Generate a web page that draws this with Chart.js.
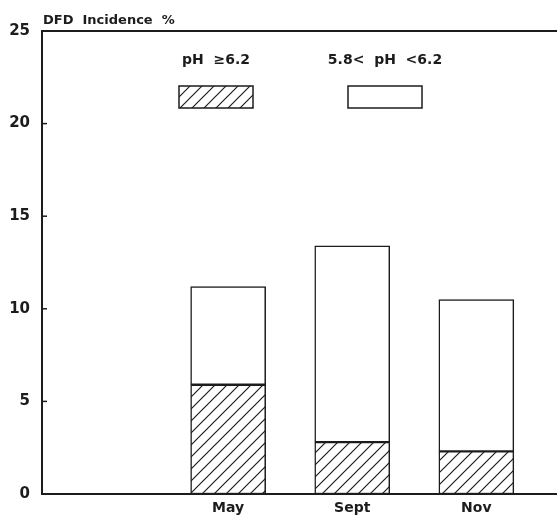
<!DOCTYPE html>
<html>
<head>
<meta charset="utf-8">
<script src="https://cdn.jsdelivr.net/npm/chart.js@4.4.1/dist/chart.umd.min.js"></script>
<style>
    html, body { margin: 0; padding: 0; background: #fff; }
</style>
</head>
<body>
<canvas id="chartDFD" width="557" height="519"></canvas>
<script>
// ---------- DATA ----------
var months = ['May', 'Sept', 'Nov'];
var highPH = [5.9, 2.8, 2.3];      // pH >= 6.2 (hatched)
var midPH = [5.3, 10.6, 8.2];      // 5.8 < pH < 6.2 (white, stacked on top)
var yTicks = [0, 5, 10, 15, 20, 25];
var seriesNames = ['pH  \u22656.2', '5.8<  pH  <6.2'];
var yTitle = 'DFD  Incidence  %';

var ink = '#1c1c1c';
var font = 'DejaVu Sans, Liberation Sans, sans-serif';

// hatch pattern for the high pH series
function makeHatch() {
    var s = 12;
    var c = document.createElement('canvas');
    c.width = s; c.height = s;
    var g = c.getContext('2d');
    g.fillStyle = '#fff';
    g.fillRect(0, 0, s, s);
    g.strokeStyle = ink;
    g.lineWidth = 1.2;
    g.beginPath();
    g.moveTo(0, s); g.lineTo(s, 0);
    g.moveTo(-2, 2); g.lineTo(2, -2);
    g.moveTo(s - 2, s + 2); g.lineTo(s + 2, s - 2);
    g.stroke();
    return g.createPattern(c, 'repeat');
}
var hatch = makeHatch();

function toPoints(arr) {
    return arr.map(function (v, i) { return { x: i + 1, y: v }; });
}

// ---------- PLUGINS ----------
var frameExtras = {
    id: 'frameExtras',
    afterDraw: function (chart) {
        var ctx = chart.ctx;
        var a = chart.chartArea;
        var y = chart.scales.y;
        ctx.save();
        ctx.strokeStyle = ink;
        // top border
        ctx.lineWidth = 2;
        ctx.beginPath();
        ctx.moveTo(a.left, a.top);
        ctx.lineTo(a.right, a.top);
        ctx.stroke();
        // inward tick marks
        ctx.lineWidth = 1.5;
        yTicks.forEach(function (t) {
            var py = y.getPixelForValue(t);
            ctx.beginPath();
            ctx.moveTo(a.left, py);
            ctx.lineTo(a.left + 5, py);
            ctx.stroke();
        });
        // axis title
        ctx.fillStyle = ink;
        ctx.font = 'bold 13px ' + font;
        ctx.textAlign = 'left';
        ctx.textBaseline = 'alphabetic';
        ctx.fillText(yTitle, a.left + 1, 24);
        // legend
        var items = [
            { label: seriesNames[0], fill: hatch, cx: 216 },
            { label: seriesNames[1], fill: '#fff', cx: 385 }
        ];
        ctx.font = 'bold 14px ' + font;
        ctx.textAlign = 'center';
        ctx.textBaseline = 'middle';
        items.forEach(function (it) {
            ctx.fillStyle = ink;
            ctx.fillText(it.label, it.cx, 60);
            ctx.fillStyle = it.fill;
            ctx.fillRect(it.cx - 37, 86, 74, 22);
            ctx.lineWidth = 1.5;
            ctx.strokeRect(it.cx - 37, 86, 74, 22);
        });
        ctx.restore();
    }
};

// ---------- CHART ----------
new Chart(document.getElementById('chartDFD'), {
    type: 'bar',
    data: {
        datasets: [{
            label: seriesNames[0],
            data: toPoints(highPH),
            backgroundColor: hatch,
            borderColor: ink,
            borderWidth: 1.5,
            borderSkipped: false,
            barThickness: 75
        }, {
            label: seriesNames[1],
            data: toPoints(midPH),
            backgroundColor: '#fff',
            borderColor: ink,
            borderWidth: 1.5,
            borderSkipped: false,
            barThickness: 75
        }]
    },
    options: {
        responsive: false,
        animation: false,
        layout: { padding: { top: 31, right: 0, left: 0, bottom: 0 } },
        plugins: {
            legend: { display: false },
            tooltip: { enabled: false }
        },
        scales: {
            x: {
                type: 'linear',
                stacked: true,
                offset: false,
                min: -0.5,
                max: 3.65,
                grid: { display: false, drawTicks: false },
                border: { display: true, color: ink, width: 2 },
                afterBuildTicks: function (scale) {
                    scale.ticks = months.map(function (m, i) { return { value: i + 1 }; });
                },
                afterFit: function (scale) { scale.height = 25; },
                ticks: {
                    color: ink,
                    padding: 6,
                    maxRotation: 0,
                    autoSkip: false,
                    font: { family: font, size: 14, weight: 'bold' },
                    callback: function (v) { return months[v - 1] || ''; }
                }
            },
            y: {
                stacked: true,
                min: 0,
                max: 25,
                grid: { display: false, drawTicks: false },
                border: { display: true, color: ink, width: 2 },
                afterBuildTicks: function (scale) {
                    scale.ticks = yTicks.map(function (t) { return { value: t }; });
                },
                afterFit: function (scale) { scale.width = 42; },
                ticks: {
                    color: ink,
                    padding: 12,
                    font: { family: font, size: 15, weight: 'bold' }
                }
            }
        }
    },
    plugins: [frameExtras]
});
</script>
</body>
</html>
